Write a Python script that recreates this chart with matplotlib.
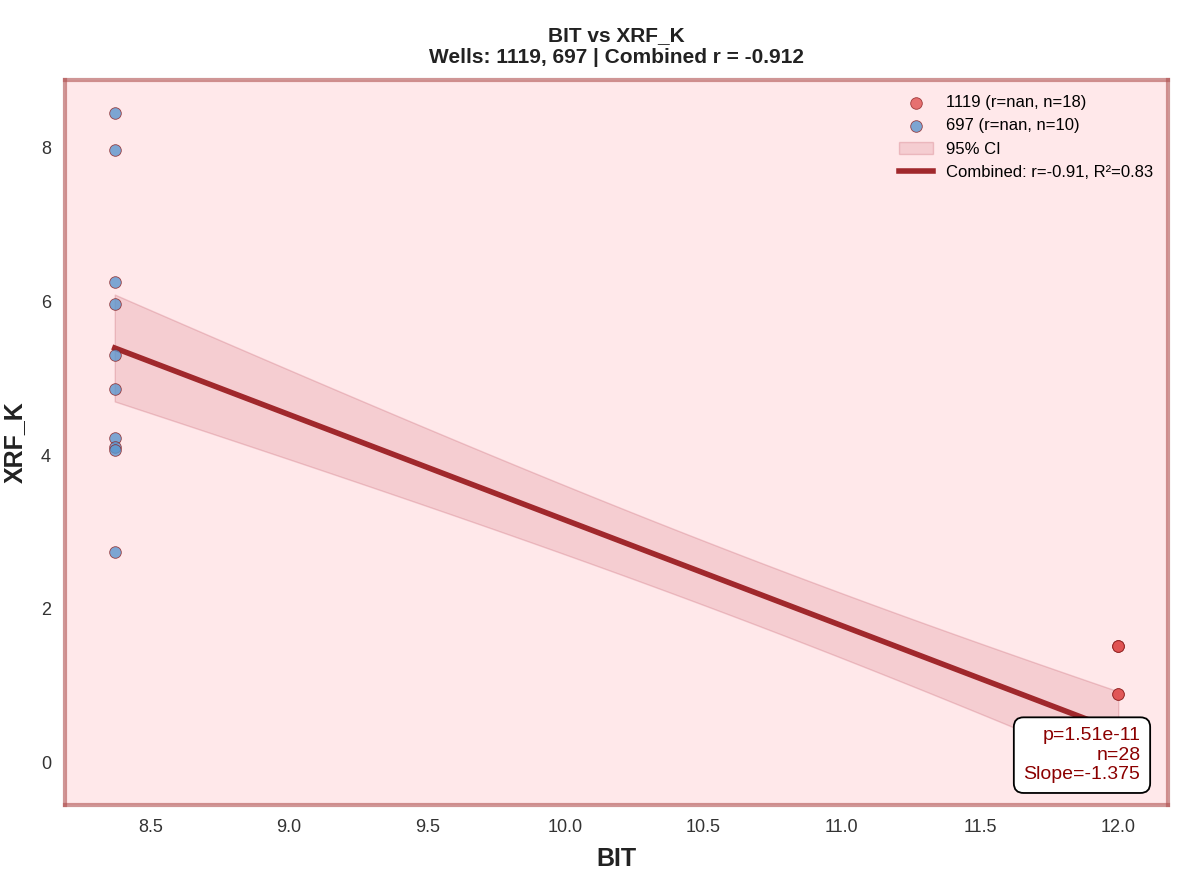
import numpy as np
import matplotlib.pyplot as plt

# well 697 at low BIT, well 1119 at high BIT
x_697 = [8.37] * 10
y_697 = [8.45, 7.97, 6.25, 5.97, 5.30, 4.86, 4.23, 4.10, 4.07, 2.74]
x_1119 = [12.0] * 18
y_1119 = [1.52, 1.52, 1.52, 0.90, 0.90, 0.10, 0.08, 0.08, 0.07, 0.09,
          0.06, 0.10, 0.08, 0.07, 0.09, 0.08, 0.06, 0.06]

plt.rcParams['font.family'] = ['Liberation Sans', 'DejaVu Sans']
fig = plt.figure(figsize=(11.82, 8.8), dpi=100)
ax = fig.add_axes([65 / 1182, 1 - 805 / 880, 1103 / 1182, 725 / 880])
ax.set_facecolor('#ffe8ea')

ax.scatter(x_1119, y_1119, s=70, color='#e05252', alpha=0.8, edgecolor='#8b2020',
           linewidth=0.6, label='1119 (r=nan, n=18)', zorder=3)
ax.scatter(x_697, y_697, s=70, color='#5b95cc', alpha=0.8, edgecolor='#8b2020',
           linewidth=0.6, label='697 (r=nan, n=10)', zorder=3)

x = np.array(x_697 + x_1119)
y = np.array(y_697 + y_1119)
n = len(x)
slope, icpt = np.polyfit(x, y, 1)
xs = np.linspace(x.min(), x.max(), 100)
ys = slope * xs + icpt
resid = y - (slope * x + icpt)
s = np.sqrt(np.sum(resid**2) / (n - 2))
se = s * np.sqrt(1 / n + (xs - x.mean())**2 / np.sum((x - x.mean())**2))
ax.fill_between(xs, ys - 1.9 * se, ys + 1.9 * se, color='#d9808a', alpha=0.25,
                edgecolor='#c05060', label='95% CI', zorder=1)
ax.plot(xs, ys, color='#a0282c', lw=4, label='Combined: r=-0.91, R²=0.83', zorder=2)

ax.text(0.975, 0.03, 'p=1.51e-11\nn=28\nSlope=-1.375', transform=ax.transAxes,
        ha='right', va='bottom', fontsize=14, color='#8b0000', zorder=5,
        bbox=dict(boxstyle='round,pad=0.5', fc='white', ec='black', lw=1.3))

ax.set_xlim(8.19, 12.18)
ax.set_ylim(-0.55, 8.88)
ax.set_xlabel('BIT', fontsize=18, fontweight='bold', color='#222222', labelpad=8)
ax.set_ylabel('XRF_K', fontsize=18, fontweight='bold', color='#222222', labelpad=10)
ax.set_title('BIT vs XRF_K\nWells: 1119, 697 | Combined r = -0.912', fontsize=15,
             fontweight='bold', color='#222222', pad=12)
ax.tick_params(labelsize=13, length=0, pad=10, labelcolor='#333333')
for sp in ax.spines.values():
    sp.set_color('#b05050')
    sp.set_alpha(0.6)
    sp.set_linewidth(3)
ax.legend(loc='upper right', fontsize=12, frameon=False)
fig.savefig('out.png')
